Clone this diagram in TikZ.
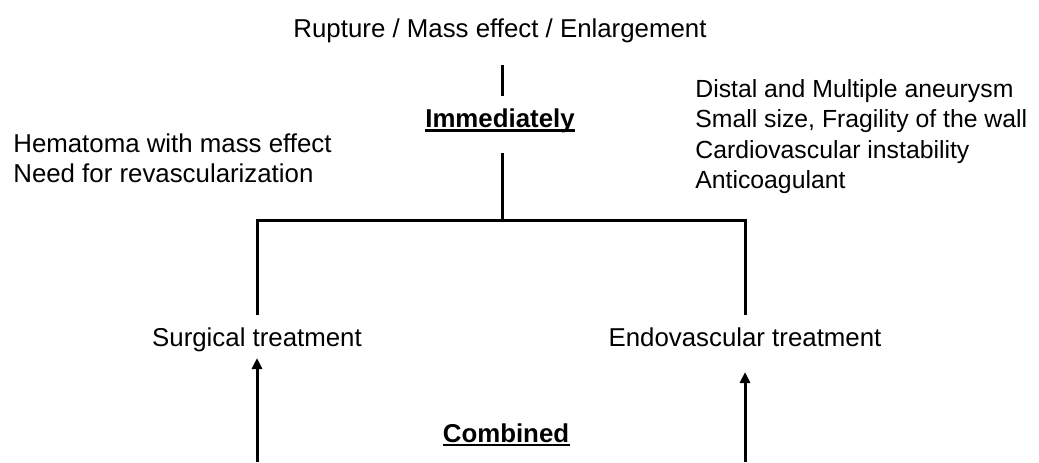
\documentclass[tikz,border=0pt]{standalone}
\usepackage{fontspec}
\setmainfont{Liberation Sans}
\usepackage{tikz}
\usetikzlibrary{arrows.meta,positioning,calc}

\begin{document}
\begin{tikzpicture}[x=0.2mm, y=-0.2mm,
  font=\fontsize{14.7}{17.4}\selectfont,
  txt/.style={inner sep=0pt, anchor=base},
  link/.style={line width=0.6mm},
  arr/.style={link, -{Triangle[length=2.2mm, width=2mm]}},
  uline/.style={line width=0.5mm}]
  \useasboundingbox (0,0) rectangle (1039,462);
  % headings, (x,y) in pixels from the top left
  \node[txt] (cause) at (500,37.5) {Rupture / Mass effect / Enlargement};
  \node[txt] (imm) at (500,127.3) {\textbf{Immediately}};
  \node[txt] (comb) at (506,442) {\textbf{Combined}};
  \node[txt] (surg) at (257,346) {Surgical treatment};
  \node[txt] (endo) at (745,346) {Endovascular treatment};
  \draw[uline] ($(imm.base west)+(0,3)$) -- ($(imm.base east)+(0,3)$);
  \draw[uline] ($(comb.base west)+(0,3)$) -- ($(comb.base east)+(0,3)$);
  % indications for each side
  \foreach \i/\lab in {0/Hematoma with mass effect, 1/Need for revascularization}
    \node[txt, anchor=base west] (surgind\i) at (13,152+30*\i) {\lab};
  \foreach \i/\lab in {0/Distal and Multiple aneurysm, 1/{Small size, Fragility of the wall},
                       2/Cardiovascular instability, 3/Anticoagulant}
    \node[txt, anchor=base west, font=\fontsize{14.1}{17}\selectfont]
      (endoind\i) at (695,97+30.6*\i) {\lab};
  % tree
  \coordinate (hub) at (502,220);
  \coordinate (lknee) at (257,220);
  \coordinate (rknee) at (745,220);
  \coordinate (lfoot) at (257,462);
  \coordinate (rfoot) at (745,462);
  \draw[link] ($(cause.base)+(2,27.5)$) -- ($(imm.base)+(2,-31.3)$);
  \draw[link] ($(imm.base)+(2,25.7)$) -- (hub);
  \draw[link] ($(surg.base)+(0,-31)$) -- (lknee) -- (rknee) -- ($(endo.base)+(0,-31)$);
  % combined
  \draw[arr] (lfoot) -- ($(surg.base)+(0,12)$);
  \draw[arr] (rfoot) -- ($(endo.base)+(0,26)$);
\end{tikzpicture}
\end{document}
